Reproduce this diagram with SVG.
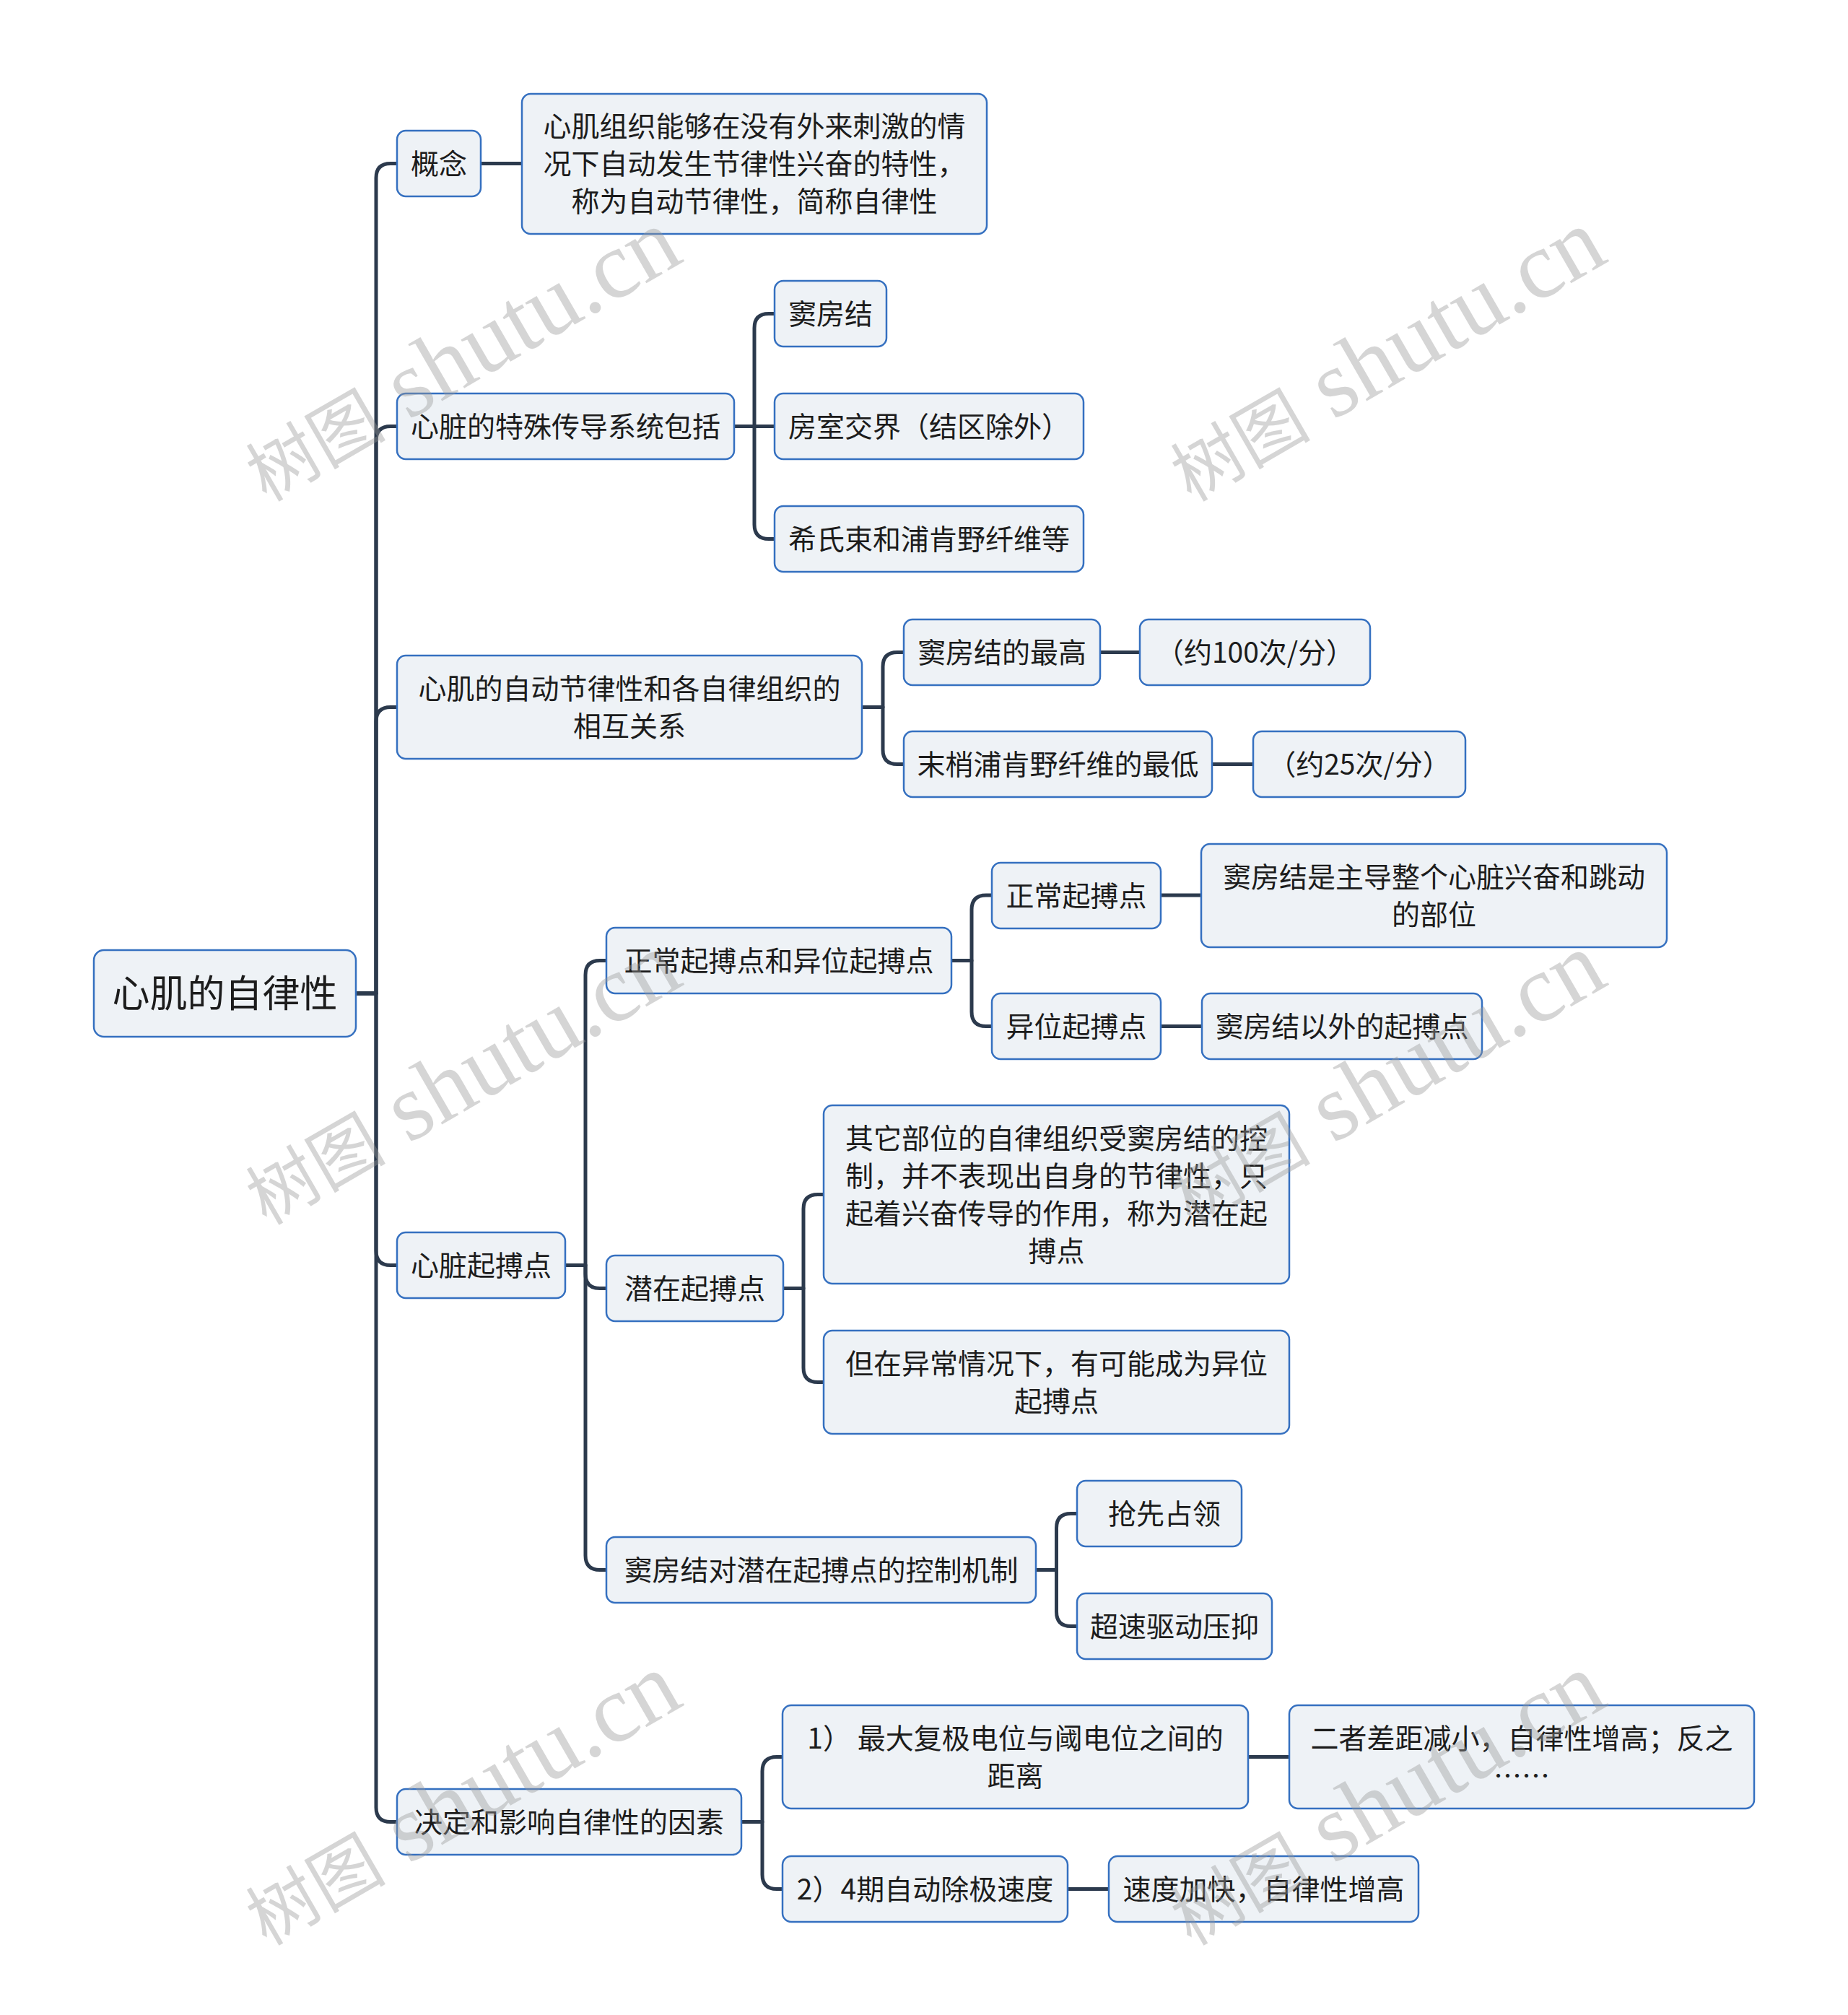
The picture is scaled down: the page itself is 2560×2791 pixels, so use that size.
<svg xmlns="http://www.w3.org/2000/svg" width="2560" height="2791" viewBox="0 0 2560 2791">
<style>
.bg{fill:#ffffff}
.box{fill:#eef2f6;stroke:#3570c0;stroke-width:2.5}
.t{font-family:"Noto Sans CJK SC","Noto Sans",sans-serif;font-size:39px;fill:#1c1c1c;text-anchor:middle;dominant-baseline:central}
.root{font-size:52px}
.ln{fill:none;stroke:#2c3a4d;stroke-width:5;stroke-linejoin:round}
.wm{font-family:"Liberation Serif","Noto Sans CJK SC",serif;fill:#999999;opacity:0.4}
.wc{font-size:97px}
.wl{font-size:132px}
</style>
<rect class="bg" x="0" y="0" width="2560" height="2791"/>
<g id="connectors">
<path class="ln" d="M493 1376 H521 V246.5 Q521 226.5 541 226.5 H550"/>
<path class="ln" d="M493 1376 H521 V610.5 Q521 590.5 541 590.5 H550"/>
<path class="ln" d="M493 1376 H521 V999.5 Q521 979.5 541 979.5 H550"/>
<path class="ln" d="M493 1376 H521 V1732.5 Q521 1752.5 541 1752.5 H550"/>
<path class="ln" d="M493 1376 H521 V2503.5 Q521 2523.5 541 2523.5 H550"/>
<path class="ln" d="M666 226.5 H723"/>
<path class="ln" d="M1017 590.5 H1045 V454.5 Q1045 434.5 1065 434.5 H1073"/>
<path class="ln" d="M1017 590.5 H1073"/>
<path class="ln" d="M1017 590.5 H1045 V726.5 Q1045 746.5 1065 746.5 H1073"/>
<path class="ln" d="M1194 979.5 H1223 V923.5 Q1223 903.5 1243 903.5 H1252"/>
<path class="ln" d="M1194 979.5 H1223 V1038.5 Q1223 1058.5 1243 1058.5 H1252"/>
<path class="ln" d="M1524 903.5 H1579"/>
<path class="ln" d="M1679 1058.5 H1736"/>
<path class="ln" d="M783 1752.5 H811 V1350.5 Q811 1330.5 831 1330.5 H840"/>
<path class="ln" d="M783 1752.5 H811 V1764.5 Q811 1784.5 831 1784.5 H840"/>
<path class="ln" d="M783 1752.5 H811 V2154.5 Q811 2174.5 831 2174.5 H840"/>
<path class="ln" d="M1318 1330.5 H1346 V1260 Q1346 1240 1366 1240 H1374"/>
<path class="ln" d="M1318 1330.5 H1346 V1401.5 Q1346 1421.5 1366 1421.5 H1374"/>
<path class="ln" d="M1608 1240 H1664"/>
<path class="ln" d="M1608 1421.5 H1665"/>
<path class="ln" d="M1085 1784.5 H1113 V1674.5 Q1113 1654.5 1133 1654.5 H1141"/>
<path class="ln" d="M1085 1784.5 H1113 V1894.5 Q1113 1914.5 1133 1914.5 H1141"/>
<path class="ln" d="M1435 2174.5 H1463.5 V2116.5 Q1463.5 2096.5 1483.5 2096.5 H1492"/>
<path class="ln" d="M1435 2174.5 H1463.5 V2232.5 Q1463.5 2252.5 1483.5 2252.5 H1492"/>
<path class="ln" d="M1027 2523.5 H1056 V2453.5 Q1056 2433.5 1076 2433.5 H1084"/>
<path class="ln" d="M1027 2523.5 H1056 V2596.5 Q1056 2616.5 1076 2616.5 H1084"/>
<path class="ln" d="M1729 2433.5 H1786"/>
<path class="ln" d="M1479 2616.5 H1536"/>
</g>
<g id="root"><rect class="box" x="130" y="1316" width="363" height="120" rx="14"/><text class="t root" x="311.5" y="1372">心肌的自律性</text></g>
<g id="n-gainian"><rect class="box" x="550" y="181" width="116" height="91" rx="12"/><text class="t" x="608" y="223.5">概念</text></g>
<g id="n-gainian-def"><rect class="box" x="723" y="130" width="644" height="194" rx="12"/><text class="t" x="1045" y="172">心肌组织能够在没有外来刺激的情</text><text class="t" x="1045" y="224">况下自动发生节律性兴奋的特性，</text><text class="t" x="1045" y="276">称为自动节律性，简称自律性</text></g>
<g id="n-chuandao"><rect class="box" x="550" y="545" width="467" height="91" rx="12"/><text class="t" x="783.5" y="587.5">心脏的特殊传导系统包括</text></g>
<g id="n-doufangjie"><rect class="box" x="1073" y="389" width="155" height="91" rx="12"/><text class="t" x="1150.5" y="431.5">窦房结</text></g>
<g id="n-fangshi"><rect class="box" x="1073" y="545" width="428" height="91" rx="12"/><text class="t" x="1287" y="587.5">房室交界（结区除外）</text></g>
<g id="n-xishi"><rect class="box" x="1073" y="701" width="428" height="91" rx="12"/><text class="t" x="1287" y="743.5">希氏束和浦肯野纤维等</text></g>
<g id="n-guanxi"><rect class="box" x="550" y="908" width="644" height="143" rx="12"/><text class="t" x="872" y="950.5">心肌的自动节律性和各自律组织的</text><text class="t" x="872" y="1002.5">相互关系</text></g>
<g id="n-zuigao"><rect class="box" x="1252" y="858" width="272" height="91" rx="12"/><text class="t" x="1388" y="900.5">窦房结的最高</text></g>
<g id="n-100"><rect class="box" x="1579" y="858" width="319" height="91" rx="12"/><text class="t" x="1738.5" y="900.5">（约100次/分）</text></g>
<g id="n-zuidi"><rect class="box" x="1252" y="1013" width="427" height="91" rx="12"/><text class="t" x="1465.5" y="1055.5">末梢浦肯野纤维的最低</text></g>
<g id="n-25"><rect class="box" x="1736" y="1013" width="294" height="91" rx="12"/><text class="t" x="1883" y="1055.5">（约25次/分）</text></g>
<g id="n-qibodian"><rect class="box" x="550" y="1707" width="233" height="91" rx="12"/><text class="t" x="666.5" y="1749.5">心脏起搏点</text></g>
<g id="n-zhengchang-yiwei"><rect class="box" x="840" y="1285" width="478" height="91" rx="12"/><text class="t" x="1079" y="1327.5">正常起搏点和异位起搏点</text></g>
<g id="n-zhengchang"><rect class="box" x="1374" y="1195" width="234" height="91" rx="12"/><text class="t" x="1491" y="1237.5">正常起搏点</text></g>
<g id="n-zhengchang-def"><rect class="box" x="1664" y="1169" width="645" height="143" rx="12"/><text class="t" x="1986.5" y="1211.5">窦房结是主导整个心脏兴奋和跳动</text><text class="t" x="1986.5" y="1263.5">的部位</text></g>
<g id="n-yiwei"><rect class="box" x="1374" y="1376" width="234" height="91" rx="12"/><text class="t" x="1491" y="1418.5">异位起搏点</text></g>
<g id="n-yiwei-def"><rect class="box" x="1665" y="1376" width="388" height="91" rx="12"/><text class="t" x="1859" y="1418.5">窦房结以外的起搏点</text></g>
<g id="n-qianzai"><rect class="box" x="840" y="1739" width="245" height="91" rx="12"/><text class="t" x="962.5" y="1781.5">潜在起搏点</text></g>
<g id="n-qianzai-def"><rect class="box" x="1141" y="1531" width="645" height="247" rx="12"/><text class="t" x="1463.5" y="1573.5">其它部位的自律组织受窦房结的控</text><text class="t" x="1463.5" y="1625.5">制，并不表现出自身的节律性，只</text><text class="t" x="1463.5" y="1677.5">起着兴奋传导的作用，称为潜在起</text><text class="t" x="1463.5" y="1729.5">搏点</text></g>
<g id="n-qianzai-yichang"><rect class="box" x="1141" y="1843" width="645" height="143" rx="12"/><text class="t" x="1463.5" y="1885.5">但在异常情况下，有可能成为异位</text><text class="t" x="1463.5" y="1937.5">起搏点</text></g>
<g id="n-kongzhi"><rect class="box" x="840" y="2129" width="595" height="91" rx="12"/><text class="t" x="1137.5" y="2171.5">窦房结对潜在起搏点的控制机制</text></g>
<g id="n-qiangxian"><rect class="box" x="1492" y="2051" width="228" height="91" rx="12"/><text class="t" x="1613" y="2093.5">抢先占领</text></g>
<g id="n-chaosu"><rect class="box" x="1492" y="2207" width="270" height="91" rx="12"/><text class="t" x="1627" y="2249.5">超速驱动压抑</text></g>
<g id="n-yinsu"><rect class="box" x="550" y="2478" width="477" height="91" rx="12"/><text class="t" x="788.5" y="2520.5">决定和影响自律性的因素</text></g>
<g id="n-juli"><rect class="box" x="1084" y="2362" width="645" height="143" rx="12"/><text class="t" x="1406.5" y="2404.5">1） 最大复极电位与阈电位之间的</text><text class="t" x="1406.5" y="2456.5">距离</text></g>
<g id="n-juli-def"><rect class="box" x="1786" y="2362" width="644" height="143" rx="12"/><text class="t" x="2108" y="2404.5">二者差距减小，自律性增高；反之</text><text class="t" x="2108" y="2456.5">……</text></g>
<g id="n-sudu"><rect class="box" x="1084" y="2571" width="395" height="91" rx="12"/><text class="t" x="1281.5" y="2613.5">2）4期自动除极速度</text></g>
<g id="n-sudu-def"><rect class="box" x="1536" y="2571" width="429" height="91" rx="12"/><text class="t" x="1750.5" y="2613.5">速度加快，自律性增高</text></g>
<g id="watermarks">
<text class="wm" transform="translate(369 696) rotate(-30)"><tspan class="wc">树图</tspan><tspan class="wl"> shutu.cn</tspan></text>
<text class="wm" transform="translate(1650 696) rotate(-30)"><tspan class="wc">树图</tspan><tspan class="wl"> shutu.cn</tspan></text>
<text class="wm" transform="translate(369 1698) rotate(-30)"><tspan class="wc">树图</tspan><tspan class="wl"> shutu.cn</tspan></text>
<text class="wm" transform="translate(1650 1698) rotate(-30)"><tspan class="wc">树图</tspan><tspan class="wl"> shutu.cn</tspan></text>
<text class="wm" transform="translate(369 2696) rotate(-30)"><tspan class="wc">树图</tspan><tspan class="wl"> shutu.cn</tspan></text>
<text class="wm" transform="translate(1650 2696) rotate(-30)"><tspan class="wc">树图</tspan><tspan class="wl"> shutu.cn</tspan></text>
</g>
</svg>
